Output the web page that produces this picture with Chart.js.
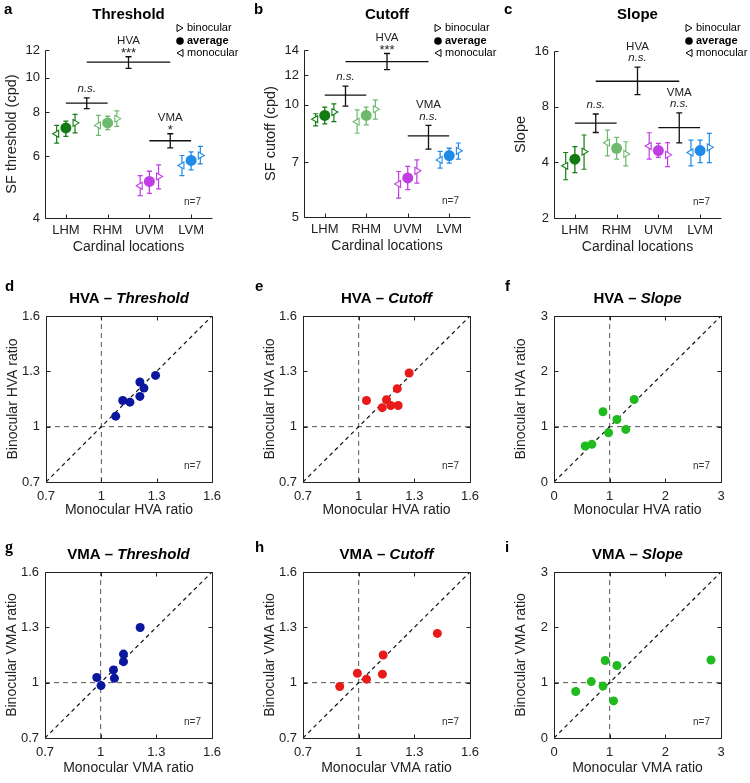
<!DOCTYPE html>
<html>
<head>
<meta charset="utf-8">
<script src="https://cdn.jsdelivr.net/npm/chart.js@4.4.0/dist/chart.umd.min.js"></script>
<style>
  body { margin: 0; background: #fff; }
  #fig { position: relative; width: 750px; height: 783px; }
  #fig canvas { position: absolute; }
</style>
</head>
<body>
<div id="fig"></div>
<script>
const locations = ['LHM', 'RHM', 'UVM', 'LVM'];
const locColors = ['#137b13', '#6dba6d', '#c13de4', '#1f8ae8'];

// comparisons: LHM vs RHM, HVA (horizontal vs vertical), VMA (UVM vs LVM)
const cmpNames = ['', 'HVA', 'VMA'];
const cmpFrom = [1, 1.5, 3];
const cmpTo = [2, 3.5, 4];

// a - threshold (cpd)
const thrTicks = [4, 6, 8, 10, 12];
const thrAvg = [7.21, 7.45, 5.08, 5.83];
const thrAvgLo = [6.82, 7.13, 4.70, 5.48];
const thrAvgHi = [7.54, 7.78, 5.43, 6.16];
const thrMono = [6.94, 7.33, 4.94, 5.64];
const thrMonoLo = [6.53, 6.87, 4.63, 5.28];
const thrMonoHi = [7.33, 7.83, 5.28, 6.02];
const thrBino = [7.45, 7.66, 5.25, 6.02];
const thrBinoLo = [6.98, 7.28, 4.84, 5.70];
const thrBinoHi = [7.88, 8.06, 5.66, 6.39];
const thrCmp = [8.48, 11.09, 6.63];
const thrCmpLo = [8.18, 10.64, 6.33];
const thrCmpHi = [8.77, 11.48, 6.94];
const thrSig = ['n.s.', '***', '*'];

// b - cutoff (cpd)
const cutTicks = [5, 7, 10, 12, 14];
const cutAvg = [9.35, 9.35, 6.36, 7.30];
const cutAvgLo = [8.88, 8.82, 5.92, 6.97];
const cutAvgHi = [9.84, 9.84, 6.83, 7.64];
const cutMono = [9.14, 9.00, 6.13, 7.11];
const cutMonoLo = [8.77, 8.38, 5.62, 6.76];
const cutMonoHi = [9.45, 9.68, 6.62, 7.49];
const cutBino = [9.55, 9.72, 6.65, 7.52];
const cutBinoLo = [9.00, 9.14, 6.16, 7.14];
const cutBinoHi = [10.04, 10.29, 7.11, 7.89];
const cutCmp = [10.6, 13.03, 8.24];
const cutCmpLo = [9.9, 12.4, 7.6];
const cutCmpHi = [11.2, 13.7, 8.8];
const cutSig = ['n.s.', '***', 'n.s.'];

// c - slope
const slpTicks = [2, 4, 8, 16];
const slpAvg = [4.16, 4.76, 4.63, 4.63];
const slpAvgLo = [3.52, 4.16, 4.26, 3.99];
const slpAvgHi = [4.86, 5.46, 5.07, 5.28];
const slpMono = [3.83, 5.11, 4.90, 4.52];
const slpMonoLo = [3.22, 4.33, 4.16, 3.83];
const slpMonoHi = [4.52, 5.98, 5.78, 5.28];
const slpBino = [4.57, 4.44, 4.39, 4.82];
const slpBinoLo = [3.67, 3.83, 3.79, 3.99];
const slpBinoHi = [5.62, 5.17, 5.11, 5.74];
const slpCmp = [6.52, 10.98, 6.16];
const slpCmpLo = [5.8, 9.3, 5.1];
const slpCmpHi = [7.3, 13.1, 7.4];
const slpSig = ['n.s.', 'n.s.', 'n.s.'];

// d-i - monocular vs binocular ratios, one value per observer
const ratioTicks = [0.7, 1, 1.3, 1.6];
const slopeRatioTicks = [0, 1, 2, 3];
const hvaThrMono = [1.078, 1.116, 1.155, 1.209, 1.209, 1.231, 1.294];
const hvaThrBino = [1.057, 1.142, 1.133, 1.242, 1.164, 1.209, 1.278];
const hvaCutMono = [1.042, 1.127, 1.150, 1.173, 1.213, 1.208, 1.272];
const hvaCutBino = [1.142, 1.103, 1.146, 1.115, 1.115, 1.206, 1.291];
const hvaSlpMono = [0.56, 0.68, 0.88, 0.98, 1.13, 1.29, 1.44];
const hvaSlpBino = [0.65, 0.68, 1.27, 0.89, 1.13, 0.95, 1.49];
const vmaThrMono = [0.979, 1.002, 1.069, 1.074, 1.123, 1.123, 1.213];
const vmaThrBino = [1.028, 0.984, 1.069, 1.024, 1.114, 1.155, 1.299];
const vmaCutMono = [0.898, 0.993, 1.042, 1.128, 1.132, 1.424];
const vmaCutBino = [0.979, 1.051, 1.019, 1.046, 1.150, 1.267];
const vmaSlpMono = [0.39, 0.67, 0.92, 0.88, 1.13, 1.07, 2.82];
const vmaSlpBino = [0.84, 1.02, 1.40, 0.94, 1.31, 0.67, 1.41];

const FONT = "'Liberation Sans', Arial, Helvetica, sans-serif";
const INK = '#222';
Chart.defaults.font.family = FONT;
Chart.defaults.color = INK;

const fig = document.getElementById('fig');

function addCanvas(left, top, w, h) {
    const c = document.createElement('canvas');
    c.width = w;
    c.height = h;
    c.style.left = left + 'px';
    c.style.top = top + 'px';
    c.style.width = w + 'px';
    c.style.height = h + 'px';
    fig.appendChild(c);
    return c;
}

function line(ctx, x1, y1, x2, y2) {
    ctx.beginPath();
    ctx.moveTo(x1, y1);
    ctx.lineTo(x2, y2);
    ctx.stroke();
}

function text(ctx, str, x, y, font, align) {
    ctx.font = font + ' ' + FONT;
    ctx.textAlign = align || 'center';
    ctx.textBaseline = 'middle';
    ctx.fillText(str, x, y);
}

function drawErr(ctx, px, yLo, yHi, color, cap, lw) {
    ctx.strokeStyle = color;
    ctx.lineWidth = lw;
    ctx.beginPath();
    ctx.moveTo(px, yLo); ctx.lineTo(px, yHi);
    ctx.moveTo(px - cap, yLo); ctx.lineTo(px + cap, yLo);
    ctx.moveTo(px - cap, yHi); ctx.lineTo(px + cap, yHi);
    ctx.stroke();
}

// frame, inward ticks, titles, legend, annotations
function makeDeco(spec) {
    return {
        id: 'deco',
        beforeDatasetsDraw(chart) {
            const { ctx, scales: { x, y } } = chart;
            ctx.save();
            chart.data.datasets.forEach(ds => {
                if (!ds.errLo) return;
                ds.errLo.forEach((lo, i) => {
                    const xv = ds.errX ? ds.errX[i] : ds.data[i].x;
                    const col = Array.isArray(ds.errColor) ? ds.errColor[i] : ds.errColor;
                    drawErr(ctx, x.getPixelForValue(xv), y.getPixelForValue(lo),
                        y.getPixelForValue(ds.errHi[i]), col, ds.cap, ds.errWidth);
                });
            });
            ctx.restore();
        },
        afterDraw(chart) {
            const { ctx, chartArea: a, scales: { x, y } } = chart;
            const L = Math.round(a.left) + 0.5, R = Math.round(a.right) + 0.5;
            const T = Math.round(a.top) + 0.5, B = Math.round(a.bottom) + 0.5;
            ctx.save();
            ctx.strokeStyle = INK;
            ctx.fillStyle = INK;
            ctx.lineWidth = 1;
            ctx.setLineDash([]);
            ctx.beginPath();
            if (spec.box) {
                ctx.rect(L, T, R - L, B - T);
            } else {
                ctx.moveTo(L, T); ctx.lineTo(L, B); ctx.lineTo(R, B);
            }
            ctx.stroke();
            const tl = 4;
            x.ticks.forEach(t => {
                const px = Math.round(x.getPixelForValue(t.value)) + 0.5;
                line(ctx, px, B, px, B - tl);
                if (spec.box) line(ctx, px, T, px, T + tl);
            });
            y.ticks.forEach(t => {
                const py = Math.round(y.getPixelForValue(t.value)) + 0.5;
                line(ctx, L, py, L + tl, py);
                if (spec.box) line(ctx, R, py, R - tl, py);
            });

            // panel letter
            ctx.fillStyle = '#000';
            text(ctx, spec.letter, spec.letterX, spec.letterY, spec.letterFont, 'left');

            // title (optionally "HVA – " + italic part)
            const cx = (a.left + a.right) / 2;
            if (spec.titleItalic) {
                ctx.font = 'bold 15px ' + FONT;
                const w1 = ctx.measureText(spec.title).width;
                ctx.font = 'italic bold 15px ' + FONT;
                const w2 = ctx.measureText(spec.titleItalic).width;
                const x0 = cx - (w1 + w2) / 2;
                text(ctx, spec.title, x0, spec.titleY, 'bold 15px', 'left');
                text(ctx, spec.titleItalic, x0 + w1, spec.titleY, 'italic bold 15px', 'left');
            } else {
                text(ctx, spec.title, cx, spec.titleY, 'bold 15px');
            }

            // axis titles
            ctx.fillStyle = INK;
            text(ctx, spec.xTitle, cx, a.bottom + spec.xTitleGap, '14px');
            ctx.save();
            ctx.translate(a.left - 33, (a.top + a.bottom) / 2);
            ctx.rotate(-Math.PI / 2);
            text(ctx, spec.yTitle, 0, 0, spec.yTitleFont || '14px');
            ctx.restore();

            // n=7
            ctx.fillStyle = '#333';
            text(ctx, 'n=7', a.right - 11, a.bottom - 16, '10px', 'right');

            if (spec.legend) {
                const lx = a.right - 32;
                const rows = [28, 41, 53];
                ctx.strokeStyle = '#000';
                ctx.fillStyle = '#000';
                ctx.lineWidth = 1;
                ctx.beginPath();
                ctx.moveTo(lx - 3, rows[0] - 3.5); ctx.lineTo(lx + 3, rows[0]); ctx.lineTo(lx - 3, rows[0] + 3.5);
                ctx.closePath(); ctx.stroke();
                ctx.beginPath();
                ctx.arc(lx, rows[1], 3.8, 0, Math.PI * 2);
                ctx.fill();
                ctx.beginPath();
                ctx.moveTo(lx + 3, rows[2] - 3.5); ctx.lineTo(lx - 3, rows[2]); ctx.lineTo(lx + 3, rows[2] + 3.5);
                ctx.closePath(); ctx.stroke();
                text(ctx, 'binocular', lx + 7, rows[0], '11px', 'left');
                text(ctx, 'average', lx + 7, rows[1], 'bold 11px', 'left');
                text(ctx, 'monocular', lx + 7, rows[2], '11px', 'left');
            }

            if (spec.cmpHi) {
                ctx.fillStyle = INK;
                spec.cmpHi.forEach((hi, k) => {
                    const px = x.getPixelForValue((cmpFrom[k] + cmpTo[k]) / 2);
                    const top = y.getPixelForValue(hi);
                    const sig = spec.sig[k];
                    const isNs = sig === 'n.s.';
                    const sy = isNs ? top - 9 : top - 3;
                    text(ctx, sig, px, sy, isNs ? 'italic 11.5px' : '13px');
                    if (cmpNames[k]) text(ctx, cmpNames[k], px, isNs ? sy - 11 : sy - 13, '11.5px');
                });
            }
            ctx.restore();
        }
    };
}

function baseOptions(w, h, area, xScale, yScale) {
    xScale.afterFit = s => { s.height = h - area[3]; };
    yScale.afterFit = s => { s.width = area[0]; };
    return {
        responsive: false,
        devicePixelRatio: 1,
        animation: false,
        events: [],
        layout: { padding: { left: 0, top: area[1], right: w - area[2], bottom: 0 } },
        plugins: { legend: { display: false }, tooltip: { enabled: false } },
        scales: { x: xScale, y: yScale }
    };
}

const tickFont = { size: 13, family: FONT };

function locationChart(pos, area, d) {
    const [left, top, w, h] = pos;
    const canvas = addCanvas(left, top, w, h);
    const pts = (vals, dx) => vals.map((v, i) => ({ x: i + 1 + dx, y: v }));
    const datasets = [
        {
            data: pts(d.avg, 0), pointStyle: 'circle', pointRadius: 5.5,
            backgroundColor: locColors, borderColor: locColors, borderWidth: 0,
            errLo: d.avgLo, errHi: d.avgHi, errColor: locColors, cap: 2.5, errWidth: 1.3, order: 0
        },
        {
            data: pts(d.mono, -0.22), pointStyle: 'triangle', rotation: -90, pointRadius: 4,
            backgroundColor: '#fff', borderColor: locColors, borderWidth: 1.1,
            errLo: d.monoLo, errHi: d.monoHi, errColor: locColors, cap: 2.5, errWidth: 1.2, order: 1
        },
        {
            data: pts(d.bino, 0.22), pointStyle: 'triangle', rotation: 90, pointRadius: 4,
            backgroundColor: '#fff', borderColor: locColors, borderWidth: 1.1,
            errLo: d.binoLo, errHi: d.binoHi, errColor: locColors, cap: 2.5, errWidth: 1.2, order: 1
        }
    ];
    d.cmp.forEach((v, k) => {
        datasets.push({
            type: 'line',
            data: [{ x: cmpFrom[k], y: v }, { x: cmpTo[k], y: v }],
            borderColor: '#111', borderWidth: 1.3, pointRadius: 0,
            errX: [(cmpFrom[k] + cmpTo[k]) / 2], errLo: [d.cmpLo[k]], errHi: [d.cmpHi[k]],
            errColor: '#111', cap: 3, errWidth: 1.3, order: 3
        });
    });
    const xScale = {
        type: 'linear', min: 0.5, max: 4.5,
        afterBuildTicks: s => { s.ticks = locations.map((_, i) => ({ value: i + 1 })); },
        ticks: { callback: v => locations[v - 1], font: tickFont, color: INK, padding: 5, maxRotation: 0, autoSkip: false },
        grid: { display: false, drawTicks: false }, border: { display: false }
    };
    const yScale = {
        type: 'logarithmic', min: d.ticks[0], max: d.ticks[d.ticks.length - 1],
        afterBuildTicks: s => { s.ticks = d.ticks.map(v => ({ value: v })); },
        ticks: { callback: v => String(v), font: tickFont, color: INK, padding: 5, autoSkip: false },
        grid: { display: false, drawTicks: false }, border: { display: false }
    };
    new Chart(canvas, {
        type: 'scatter',
        data: { datasets },
        options: baseOptions(w, h, area, xScale, yScale),
        plugins: [makeDeco({
            letter: d.letter, letterX: 4, letterY: 10, letterFont: 'bold 15px',
            title: d.title, titleY: 15,
            xTitle: 'Cardinal locations', xTitleGap: 29, yTitle: d.yTitle, yTitleFont: '14.5px',
            legend: true, cmpHi: d.cmpHi, sig: d.sig, box: false
        })]
    });
}

function ratioChart(pos, area, d) {
    const [left, top, w, h] = pos;
    const canvas = addCanvas(left, top, w, h);
    const lo = d.ticks[0], hi = d.ticks[d.ticks.length - 1];
    const datasets = [
        {
            data: d.mono.map((m, i) => ({ x: m, y: d.bino[i] })),
            pointStyle: 'circle', pointRadius: 4.5, backgroundColor: d.color, borderWidth: 0, order: 0
        },
        {
            type: 'line', data: [{ x: lo, y: lo }, { x: hi, y: hi }],
            borderColor: '#111', borderWidth: 1.2, borderDash: [4, 3.5], pointRadius: 0, order: 2
        },
        {
            type: 'line', data: [{ x: 1, y: lo }, { x: 1, y: hi }],
            borderColor: '#555', borderWidth: 1, borderDash: [5, 4], pointRadius: 0, order: 3
        },
        {
            type: 'line', data: [{ x: lo, y: 1 }, { x: hi, y: 1 }],
            borderColor: '#555', borderWidth: 1, borderDash: [5, 4], pointRadius: 0, order: 3
        }
    ];
    const axis = pad => ({
        type: 'linear', min: lo, max: hi,
        afterBuildTicks: s => { s.ticks = d.ticks.map(v => ({ value: v })); },
        ticks: { callback: v => String(v), font: tickFont, color: INK, padding: pad, autoSkip: false, maxRotation: 0 },
        grid: { display: false, drawTicks: false }, border: { display: false }
    });
    new Chart(canvas, {
        type: 'scatter',
        data: { datasets },
        options: baseOptions(w, h, area, axis(7), axis(6)),
        plugins: [makeDeco({
            letter: d.letter, letterX: d.letterX || 5, letterY: d.letterY, letterFont: d.letterFont || 'bold 15px',
            title: d.title, titleItalic: d.titleItalic, titleY: d.titleY,
            xTitle: d.xTitle, xTitleGap: d.xTitleGap, yTitle: d.yTitle, box: true
        })]
    });
}

// row 1
locationChart([0, 0, 250, 265], [45, 50, 212, 218], {
    letter: 'a', title: 'Threshold', yTitle: 'SF threshold (cpd)', ticks: thrTicks,
    avg: thrAvg, avgLo: thrAvgLo, avgHi: thrAvgHi, mono: thrMono, monoLo: thrMonoLo, monoHi: thrMonoHi,
    bino: thrBino, binoLo: thrBinoLo, binoHi: thrBinoHi, cmp: thrCmp, cmpLo: thrCmpLo, cmpHi: thrCmpHi, sig: thrSig
});
locationChart([250, 0, 250, 265], [54, 50, 220, 217], {
    letter: 'b', title: 'Cutoff', yTitle: 'SF cutoff (cpd)', ticks: cutTicks,
    avg: cutAvg, avgLo: cutAvgLo, avgHi: cutAvgHi, mono: cutMono, monoLo: cutMonoLo, monoHi: cutMonoHi,
    bino: cutBino, binoLo: cutBinoLo, binoHi: cutBinoHi, cmp: cutCmp, cmpLo: cutCmpLo, cmpHi: cutCmpHi, sig: cutSig
});
locationChart([500, 0, 250, 265], [54, 51, 221, 218], {
    letter: 'c', title: 'Slope', yTitle: 'Slope', ticks: slpTicks,
    avg: slpAvg, avgLo: slpAvgLo, avgHi: slpAvgHi, mono: slpMono, monoLo: slpMonoLo, monoHi: slpMonoHi,
    bino: slpBino, binoLo: slpBinoLo, binoHi: slpBinoHi, cmp: slpCmp, cmpLo: slpCmpLo, cmpHi: slpCmpHi, sig: slpSig
});

// row 2 - HVA
const blueDot = '#0b169e', redDot = '#e81a1a', greenDot = '#1fbb1f';
ratioChart([0, 265, 250, 255], [46, 51, 212, 217], {
    letter: 'd', letterY: 22, title: 'HVA – ', titleItalic: 'Threshold', titleY: 34, xTitleGap: 28,
    xTitle: 'Monocular HVA ratio', yTitle: 'Binocular HVA ratio', ticks: ratioTicks,
    mono: hvaThrMono, bino: hvaThrBino, color: blueDot
});
ratioChart([250, 265, 250, 255], [53, 51, 220, 217], {
    letter: 'e', letterY: 22, title: 'HVA – ', titleItalic: 'Cutoff', titleY: 34, xTitleGap: 28,
    xTitle: 'Monocular HVA ratio', yTitle: 'Binocular HVA ratio', ticks: ratioTicks,
    mono: hvaCutMono, bino: hvaCutBino, color: redDot
});
ratioChart([500, 265, 250, 255], [54, 51, 221, 217], {
    letter: 'f', letterY: 22, title: 'HVA – ', titleItalic: 'Slope', titleY: 34, xTitleGap: 28,
    xTitle: 'Monocular HVA ratio', yTitle: 'Binocular HVA ratio', ticks: slopeRatioTicks,
    mono: hvaSlpMono, bino: hvaSlpBino, color: greenDot
});

// row 3 - VMA
ratioChart([0, 520, 250, 263], [45, 52, 212, 218], {
    letter: 'g', letterY: 28, letterFont: "bold 16px 'Liberation Serif',", title: 'VMA – ', titleItalic: 'Threshold', titleY: 35, xTitleGap: 30,
    xTitle: 'Monocular VMA ratio', yTitle: 'Binocular VMA ratio', ticks: ratioTicks,
    mono: vmaThrMono, bino: vmaThrBino, color: blueDot
});
ratioChart([250, 520, 250, 263], [53, 52, 220, 218], {
    letter: 'h', letterY: 28, title: 'VMA – ', titleItalic: 'Cutoff', titleY: 35, xTitleGap: 30,
    xTitle: 'Monocular VMA ratio', yTitle: 'Binocular VMA ratio', ticks: ratioTicks,
    mono: vmaCutMono, bino: vmaCutBino, color: redDot
});
ratioChart([500, 520, 250, 263], [54, 52, 221, 218], {
    letter: 'i', letterY: 28, title: 'VMA – ', titleItalic: 'Slope', titleY: 35, xTitleGap: 30,
    xTitle: 'Monocular VMA ratio', yTitle: 'Binocular VMA ratio', ticks: slopeRatioTicks,
    mono: vmaSlpMono, bino: vmaSlpBino, color: greenDot
});
</script>
</body>
</html>
